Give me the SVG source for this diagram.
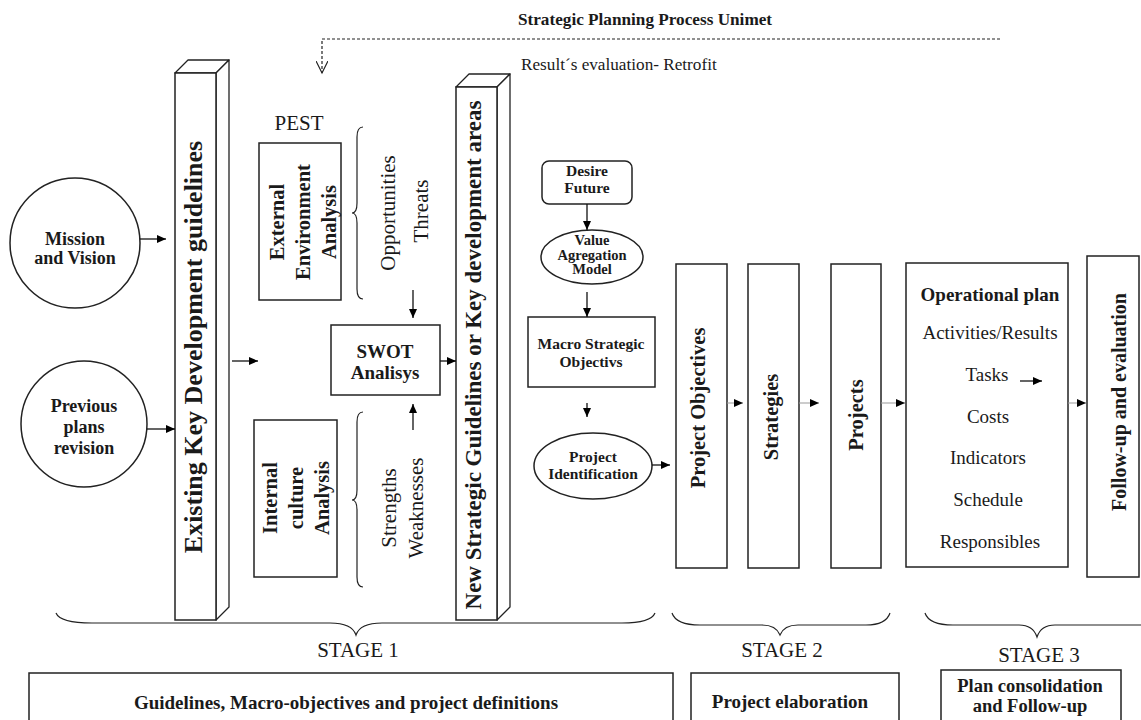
<svg xmlns="http://www.w3.org/2000/svg" width="1141" height="720" viewBox="0 0 1141 720">
<defs>
<style>
.b{fill:#fff;stroke:#222;stroke-width:1.5}
.p{fill:#fff;stroke:#222;stroke-width:1.3;stroke-linejoin:round}
.t{font-family:"Liberation Serif","Times New Roman",serif;fill:#1a1a1a}
.bd{font-weight:bold}
.m{text-anchor:middle}
.c{fill:none;stroke:#111;stroke-width:1.3}
.g{fill:none;stroke:#999;stroke-width:1}
.br{fill:none;stroke:#222;stroke-width:1.2}
</style>
<marker id="ah" markerWidth="9" markerHeight="8" refX="9" refY="4" orient="auto" markerUnits="userSpaceOnUse">
<path d="M0,0 L9,4 L0,8 Z" fill="#000"/>
</marker>
<marker id="oa" markerWidth="14" markerHeight="12" refX="12" refY="6" orient="auto" markerUnits="userSpaceOnUse">
<path d="M0,0 L12,6 L0,12" fill="none" stroke="#222" stroke-width="1.2"/>
</marker>
</defs>
<rect width="1141" height="720" fill="#fff"/>

<g id="title">
<text class="t bd m" x="645" y="25" font-size="17.2">Strategic Planning Process Unimet</text>
<text class="t" x="521" y="70" font-size="17.2">Result´s evaluation- Retrofit</text>
</g>

<g id="mission">
<circle class="b" cx="75" cy="243" r="65"/>
<text class="t bd m" x="75" y="245" font-size="18">Mission</text>
<text class="t bd m" x="75" y="264" font-size="18">and Vision</text>
</g>

<g id="previous">
<circle class="b" cx="84" cy="424" r="63"/>
<text class="t bd m" x="84" y="412" font-size="18">Previous</text>
<text class="t bd m" x="84" y="433" font-size="18">plans</text>
<text class="t bd m" x="84" y="454" font-size="18">revision</text>
</g>

<g id="existing">
<polygon class="p" points="175,73 188,60 229,60 216,73"/>
<polygon class="p" points="216,73 229,60 229,607 216,620"/>
<rect class="b" x="175" y="73" width="41" height="547"/>
<text class="t bd m" font-size="26" transform="translate(202,347) rotate(-90)">Existing Key Development guidelines</text>
</g>

<g id="pest">
<text class="t m" x="299" y="130" font-size="21">PEST</text>
</g>

<g id="external">
<rect class="b" x="259" y="143" width="82" height="157"/>
<g class="t bd m" font-size="20.5">
<text transform="translate(284,222) rotate(-90)">External</text>
<text transform="translate(310,222) rotate(-90)">Environment</text>
<text transform="translate(336,222) rotate(-90)">Analysis</text>
</g>
</g>

<g id="opportunities">
<path class="br" d="M363,127 Q357,127 357,137 L357,203 Q357,213 352,213 Q357,213 357,223 L357,289 Q357,299 363,299"/>
<text class="t m" font-size="21" transform="translate(395,213) rotate(-90)">Opportunities</text>
<text class="t m" font-size="21" transform="translate(428,211) rotate(-90)">Threats</text>
</g>

<g id="swot">
<rect class="b" x="331" y="325" width="109" height="70"/>
<text class="t bd m" x="385" y="358" font-size="19">SWOT</text>
<text class="t bd m" x="385" y="379" font-size="19">Analisys</text>
</g>

<g id="internal">
<rect class="b" x="254" y="420" width="83" height="157"/>
<g class="t bd m" font-size="20.5">
<text transform="translate(277,498) rotate(-90)">Internal</text>
<text transform="translate(303,498) rotate(-90)">culture</text>
<text transform="translate(329,498) rotate(-90)">Analysis</text>
</g>
</g>

<g id="strengths">
<path class="br" d="M363,412 Q357,412 357,422 L357,490 Q357,500 352,500 Q357,500 357,510 L357,577 Q357,587 363,587"/>
<text class="t m" font-size="21" transform="translate(396,508) rotate(-90)">Strengths</text>
<text class="t m" font-size="21" transform="translate(423,508) rotate(-90)">Weaknesses</text>
</g>

<g id="newstrategic">
<polygon class="p" points="456,87 469,74 510,74 497,87"/>
<polygon class="p" points="497,87 510,74 510,607 497,620"/>
<rect class="b" x="456" y="87" width="41" height="533"/>
<text class="t bd m" font-size="23" transform="translate(481,355) rotate(-90)">New Strategic Guidelines or Key development areas</text>
</g>

<g id="desire">
<rect class="b" x="542" y="161" width="90" height="43" rx="7"/>
<text class="t bd m" x="587" y="176" font-size="15.5">Desire</text>
<text class="t bd m" x="587" y="193" font-size="15.5">Future</text>
</g>

<g id="value">
<ellipse class="b" cx="592" cy="257" rx="51" ry="27"/>
<text class="t bd m" x="592" y="245" font-size="14.5">Value</text>
<text class="t bd m" x="592" y="259.5" font-size="14.5">Agregation</text>
<text class="t bd m" x="592" y="274" font-size="14.5">Model</text>
</g>

<g id="macro">
<rect class="b" x="528" y="317" width="127" height="70"/>
<text class="t bd m" x="591" y="349" font-size="15.5">Macro Strategic</text>
<text class="t bd m" x="591" y="367" font-size="15.5">Objectivs</text>
</g>

<g id="projectid">
<ellipse class="b" cx="593" cy="466" rx="59" ry="33"/>
<text class="t bd m" x="593" y="462" font-size="15.5">Project</text>
<text class="t bd m" x="593" y="479" font-size="15.5">Identification</text>
</g>

<g id="projobj">
<rect class="b" x="676" y="264" width="51" height="304"/>
<text class="t bd m" font-size="20.5" transform="translate(705,408) rotate(-90)">Project Objectives</text>
</g>

<g id="strategies">
<rect class="b" x="748" y="264" width="51" height="304"/>
<text class="t bd m" font-size="20.5" transform="translate(778,417) rotate(-90)">Strategies</text>
</g>

<g id="projects">
<rect class="b" x="831" y="264" width="50" height="304"/>
<text class="t bd m" font-size="20.5" transform="translate(863,415) rotate(-90)">Projects</text>
</g>

<g id="operational">
<rect class="b" x="906" y="263" width="162" height="304"/>
<text class="t bd m" x="990" y="301" font-size="19">Operational plan</text>
<g class="t m" font-size="19">
<text x="990" y="339">Activities/Results</text>
<text x="987" y="381">Tasks</text>
<text x="988" y="423">Costs</text>
<text x="988" y="464">Indicators</text>
<text x="988" y="506">Schedule</text>
<text x="990" y="548">Responsibles</text>
</g>
</g>

<g id="followup">
<rect class="b" x="1087" y="256" width="52" height="321"/>
<text class="t bd m" font-size="20" transform="translate(1126,402) rotate(-90)">Follow-up and evaluation</text>
</g>

<g id="stage1">
<path class="br" d="M56,613 Q60,623 92,623 L330,623 Q352,623 356,635 Q360,623 382,623 L622,623 Q651,623 655,613"/>
<text class="t m" x="358" y="657" font-size="21">STAGE 1</text>
<rect class="b" x="29" y="673" width="644" height="60"/>
<text class="t bd m" x="346" y="709" font-size="19">Guidelines, Macro-objectives and project definitions</text>
</g>

<g id="stage2">
<path class="br" d="M672,613 Q676,625 700,625 L762,625 Q776,625 780,635 Q784,625 798,625 L866,625 Q886,625 890,613"/>
<text class="t m" x="782" y="657" font-size="21">STAGE 2</text>
<rect class="b" x="691" y="673" width="208" height="60"/>
<text class="t bd m" x="790" y="708" font-size="19">Project elaboration</text>
</g>

<g id="stage3">
<path class="br" d="M925,613 Q929,625 953,625 L1019,625 Q1033,625 1037,637 Q1041,625 1055,625 L1141,625"/>
<text class="t m" x="1039" y="662" font-size="21">STAGE 3</text>
<rect class="b" x="941" y="670" width="180" height="60"/>
<text class="t bd m" x="1030" y="692" font-size="18.5">Plan consolidation</text>
<text class="t bd m" x="1030" y="712" font-size="18.5">and Follow-up</text>
</g>

<g id="connectors">
<path d="M1000,39 L322,39 L322,73" fill="none" stroke="#222" stroke-width="1.2" stroke-dasharray="3,2" marker-end="url(#oa)"/>
<line class="c" x1="140" y1="239" x2="166" y2="239" marker-end="url(#ah)"/>
<line class="c" x1="147" y1="429" x2="175" y2="429" marker-end="url(#ah)"/>
<line class="c" x1="232" y1="361" x2="258" y2="361" marker-end="url(#ah)"/>
<line class="c" x1="440" y1="361" x2="456" y2="361" marker-end="url(#ah)"/>
<line class="c" x1="413" y1="290" x2="413" y2="318" marker-end="url(#ah)"/>
<line class="c" x1="413" y1="430" x2="413" y2="404" marker-end="url(#ah)"/>
<line class="c" x1="587" y1="204" x2="587" y2="230" marker-end="url(#ah)"/>
<line class="c" x1="587" y1="292" x2="587" y2="317" marker-end="url(#ah)"/>
<line class="c" x1="587" y1="403" x2="587" y2="417" marker-end="url(#ah)"/>
<line class="c" x1="652" y1="465" x2="670" y2="465" marker-end="url(#ah)"/>
<line class="g" x1="727" y1="403" x2="743" y2="403" marker-end="url(#ah)"/>
<line class="g" x1="799" y1="403" x2="819" y2="403" marker-end="url(#ah)"/>
<line class="g" x1="881" y1="403" x2="905" y2="403" marker-end="url(#ah)"/>
<line class="c" x1="1020" y1="381" x2="1042" y2="381" marker-end="url(#ah)"/>
<line class="g" x1="1068" y1="403" x2="1086" y2="403" marker-end="url(#ah)"/>
</g>
</svg>
